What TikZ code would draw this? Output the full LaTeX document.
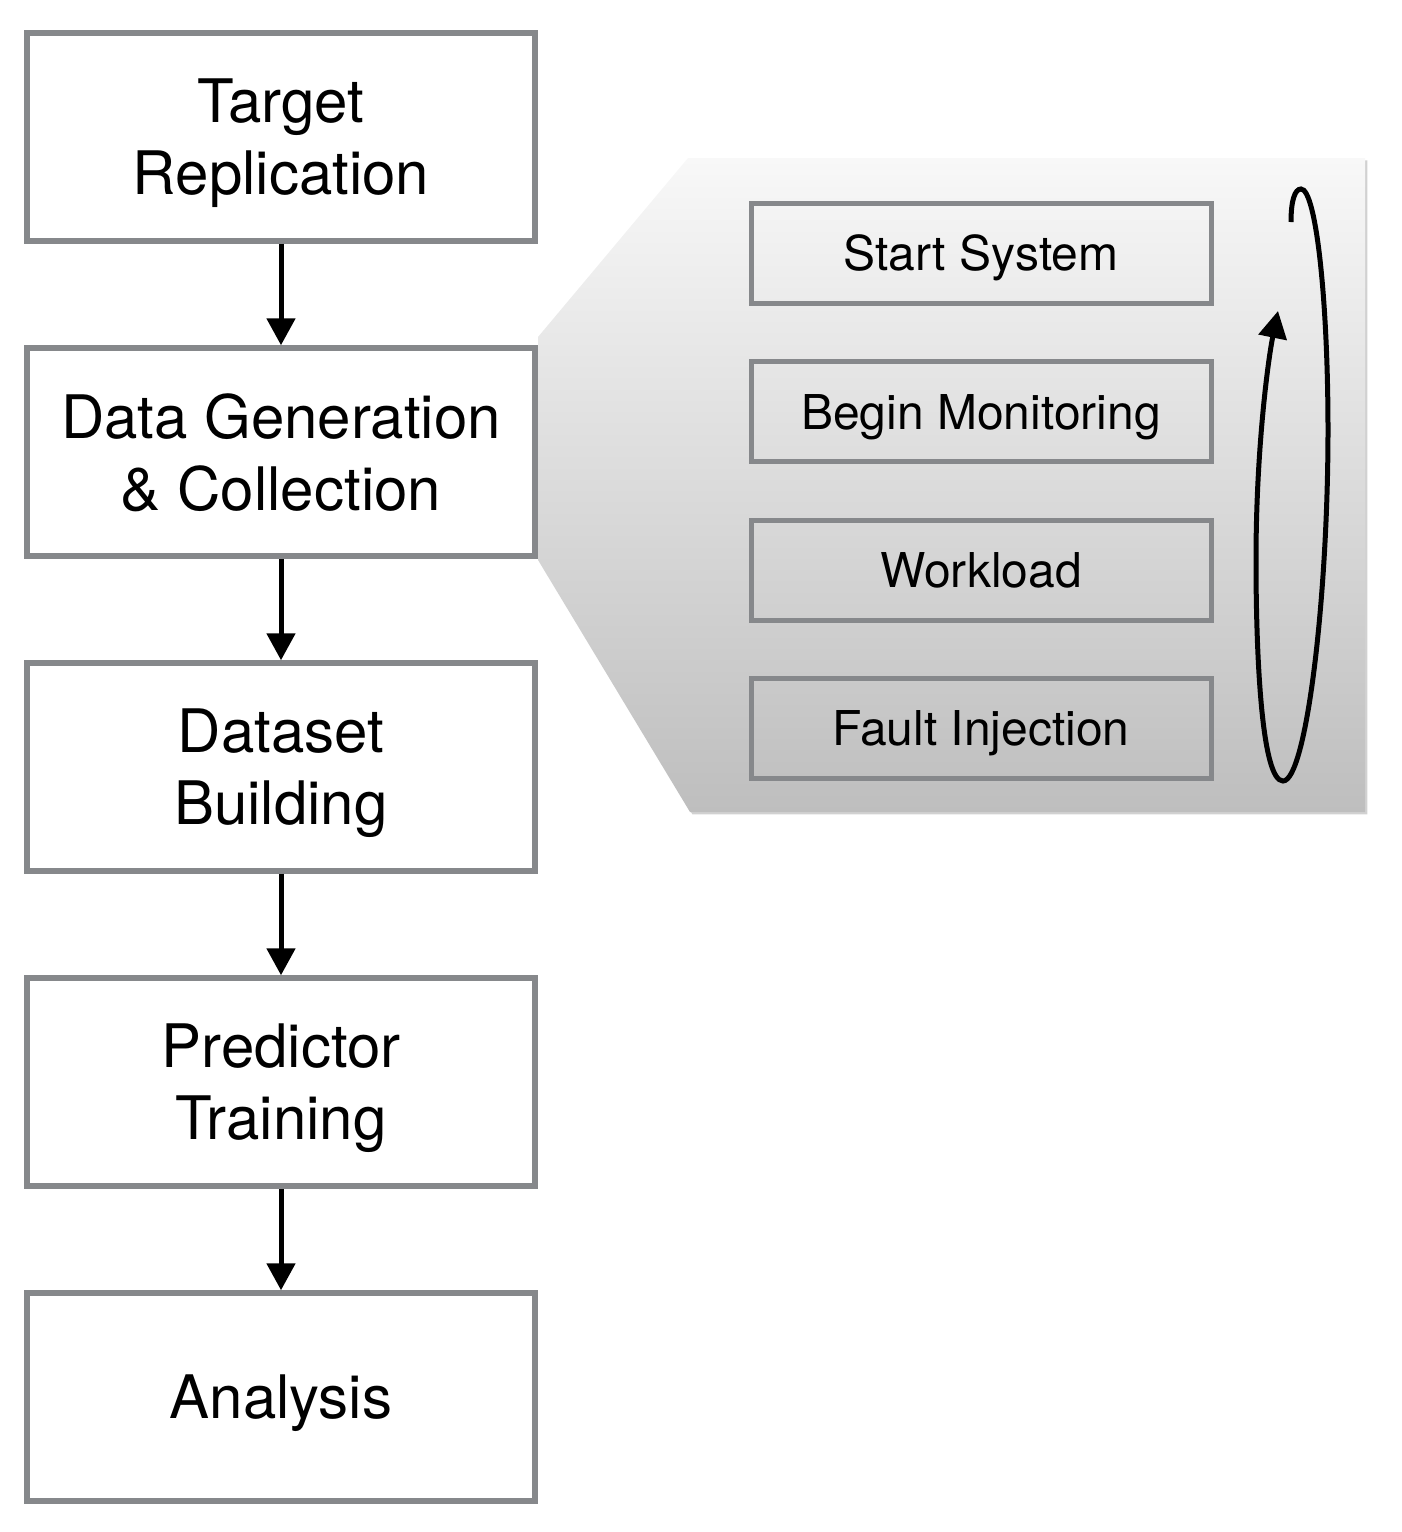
\documentclass[tikz,border=0pt]{standalone}
\usepackage{fontspec}
\setmainfont{TeX Gyre Heros}
\usetikzlibrary{arrows.meta,shadows}
\definecolor{boxgray}{HTML}{86888B}
\definecolor{paneltop}{HTML}{F8F8F8}
\definecolor{panelbot}{HTML}{BEBEBE}
\begin{document}
\begin{tikzpicture}[x=0.5pt,y=-0.5pt,
  mainbox/.style={draw=boxgray,line width=2.75pt,fill=white,minimum width=254pt,minimum height=104pt,align=center,font=\fontsize{30}{36}\selectfont,inner sep=0pt,text depth=0pt},
  subbox/.style={draw=boxgray,line width=2.5pt,minimum width=230pt,minimum height=50pt,font=\fontsize{24}{28}\selectfont,inner sep=0pt,text depth=0pt},
  flow/.style={line width=2.5pt,-{Triangle[length=13.5pt,width=14pt]}},
  looparrow/.style={line width=2.5pt,-{Triangle[length=13.5pt,width=14pt]}},
  panel/.style={top color=paneltop,bottom color=panelbot,drop shadow={shadow xshift=1.2pt,shadow yshift=-1.2pt,opacity=0.18,fill=black}}
]
\useasboundingbox (0,0) rectangle (1402,1532);
% expanded panel
\path[panel] (688,158) -- (1365,158) -- (1365,812) -- (690,812) -- (538,560) -- (538,337) -- cycle;
% main flow
\node[mainbox] (b1) at (281,137) {Target\\Replication};
\node[mainbox] (b2) at (281,452) {Data Generation\\\& Collection};
\node[mainbox] (b3) at (281,767) {Dataset\\Building};
\node[mainbox] (b4) at (281,1082) {Predictor\\Training};
\node[mainbox] (b5) at (281,1397) {Analysis};
\draw[flow] (b1) -- (b2);
\draw[flow] (b2) -- (b3);
\draw[flow] (b3) -- (b4);
\draw[flow] (b4) -- (b5);
% sub steps
\node[subbox] (s1) at (981,253) {Start System};
\node[subbox] (s2) at (981,411.5) {Begin Monitoring};
\node[subbox] (s3) at (981,570) {Workload};
\node[subbox] (s4) at (981,728) {Fault Injection};
% loop
\coordinate (ls) at (1291,222);
\coordinate (le) at (1278,311);
\draw[looparrow] (ls) .. controls (1291,200) and (1295,189) .. (1301,189)
  .. controls (1316,189) and (1328,300) .. (1328,430)
  .. controls (1328,600) and (1306,781) .. (1283,781)
  .. controls (1262,781) and (1256,660) .. (1256,560)
  .. controls (1256,450) and (1268,360) .. (le);
\end{tikzpicture}
\end{document}
